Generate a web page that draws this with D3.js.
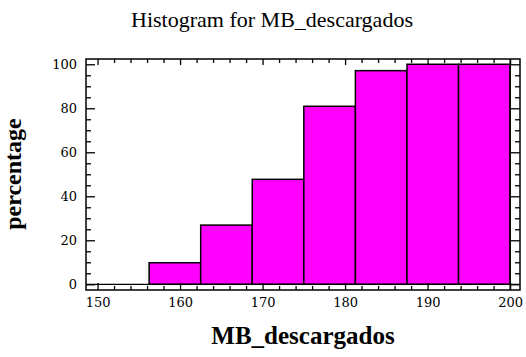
<!DOCTYPE html>
<html>
<head>
<meta charset="utf-8">
<script src="https://cdn.jsdelivr.net/npm/d3@7"></script>
<style>
  body { margin: 0; background: #fff; }
  svg { display: block; }
</style>
</head>
<body>
<svg id="chart" width="526" height="357"></svg>
<script>
// bin edges of the histogram (MB_descargados)
var binEdges = [150, 156.25, 162.5, 168.75, 175, 181.25, 187.5, 193.75, 200];
// cumulative percentage per bin
var percentages = [0, 9.8, 26.9, 47.7, 80.9, 97.1, 100, 100];
var xMajorTicks = [150, 160, 170, 180, 190, 200];
var yMajorTicks = [0, 20, 40, 60, 80, 100];

var bins = percentages.map(function(p, i) {
    return { x0: binEdges[i], x1: binEdges[i + 1], pct: p };
});

var svg = d3.select("#chart"),
    plotLeft = 86, plotRight = 520, plotTop = 59, plotBottom = 290;

var xScale = d3.scaleLinear().domain([148.6, 201.2]).range([plotLeft, plotRight]),
    yScale = d3.scaleLinear().domain([-2.6, 102.4]).range([plotBottom, plotTop]);

var xMinor = d3.range(150, 201, 2).filter(function(d) { return d % 10 != 0; }),
    yMinor = d3.range(0, 101, 5).filter(function(d) { return d % 20 != 0; });

// bars
svg.selectAll(".bar")
    .data(bins)
    .enter().append("rect")
    .attr("class", "bar")
    .attr("x", function(d) { return xScale(d.x0); })
    .attr("y", function(d) { return yScale(d.pct); })
    .attr("width", function(d) { return xScale(d.x1) - xScale(d.x0); })
    .attr("height", function(d) { return yScale(0) - yScale(d.pct); })
    .attr("fill", "#ff00ff")
    .attr("stroke", "#000")
    .attr("stroke-width", 1.5);

// zero line and right edge line
svg.append("line")
    .attr("x1", plotLeft).attr("x2", plotRight)
    .attr("y1", yScale(0)).attr("y2", yScale(0))
    .attr("stroke", "#000").attr("stroke-width", 1.3);
svg.append("line")
    .attr("x1", xScale(200)).attr("x2", xScale(200))
    .attr("y1", plotTop).attr("y2", plotBottom)
    .attr("stroke", "#000").attr("stroke-width", 1.3);

function styleAxis(g) {
    g.select(".domain").remove();
    g.selectAll("line").attr("stroke", "#000").attr("stroke-width", 1.3);
    g.selectAll("text")
        .attr("fill", "#000")
        .style("font-family", "'DejaVu Serif', serif")
        .style("font-size", "13px");
}

// left axis
svg.append("g").attr("transform", "translate(" + plotLeft + ",0)")
    .call(d3.axisLeft(yScale).tickValues(yMajorTicks).tickSize(-9).tickPadding(9))
    .call(styleAxis);
svg.append("g").attr("transform", "translate(" + plotLeft + ",0)")
    .call(d3.axisLeft(yScale).tickValues(yMinor).tickSize(-5).tickFormat(""))
    .call(styleAxis);
// right axis
svg.append("g").attr("transform", "translate(" + plotRight + ",0)")
    .call(d3.axisRight(yScale).tickValues(yMajorTicks).tickSize(-9).tickFormat(""))
    .call(styleAxis);
svg.append("g").attr("transform", "translate(" + plotRight + ",0)")
    .call(d3.axisRight(yScale).tickValues(yMinor).tickSize(-5).tickFormat(""))
    .call(styleAxis);
// bottom axis
svg.append("g").attr("transform", "translate(0," + plotBottom + ")")
    .call(d3.axisBottom(xScale).tickValues(xMajorTicks).tickSize(-7).tickPadding(8))
    .call(styleAxis);
svg.append("g").attr("transform", "translate(0," + plotBottom + ")")
    .call(d3.axisBottom(xScale).tickValues(xMinor).tickSize(-4).tickFormat(""))
    .call(styleAxis);
// top axis
svg.append("g").attr("transform", "translate(0," + plotTop + ")")
    .call(d3.axisTop(xScale).tickValues(xMajorTicks).tickSize(-6).tickFormat(""))
    .call(styleAxis);
svg.append("g").attr("transform", "translate(0," + plotTop + ")")
    .call(d3.axisTop(xScale).tickValues(xMinor).tickSize(-4).tickFormat(""))
    .call(styleAxis);

// frame
svg.append("rect")
    .attr("x", plotLeft).attr("y", plotTop)
    .attr("width", plotRight - plotLeft).attr("height", plotBottom - plotTop)
    .attr("fill", "none")
    .attr("stroke", "#000")
    .attr("stroke-width", 1.5);

// titles
svg.append("text")
    .attr("x", 272)
    .attr("y", 27)
    .attr("text-anchor", "middle")
    .style("font-family", "'Liberation Serif', 'Times New Roman', serif")
    .style("font-size", "22px")
    .text("Histogram for MB_descargados");

svg.append("text")
    .attr("x", 303)
    .attr("y", 344)
    .attr("text-anchor", "middle")
    .style("font-family", "'Liberation Serif', 'Times New Roman', serif")
    .style("font-size", "25px")
    .style("font-weight", "bold")
    .text("MB_descargados");

svg.append("text")
    .attr("transform", "translate(21,174) rotate(-90)")
    .attr("text-anchor", "middle")
    .style("font-family", "'Liberation Serif', 'Times New Roman', serif")
    .style("font-size", "24px")
    .style("font-weight", "bold")
    .text("percentage");
</script>
</body>
</html>
